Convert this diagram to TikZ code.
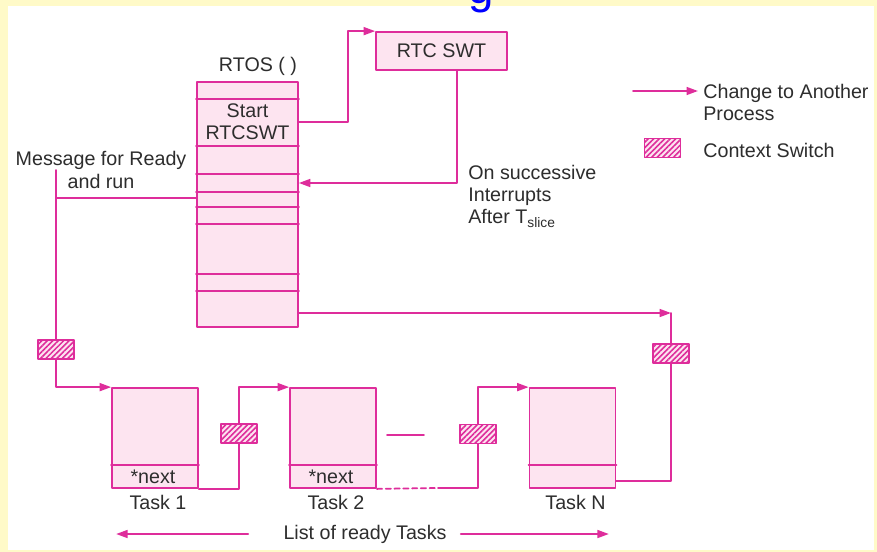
\documentclass[tikz,border=0pt]{standalone}
\usepackage{fontspec}
\setmainfont{Liberation Sans}
\usetikzlibrary{arrows.meta,patterns.meta}
\definecolor{pk}{RGB}{222,45,155}
\definecolor{pkfill}{RGB}{253,228,240}
\definecolor{bgyellow}{RGB}{255,250,200}
\definecolor{txt}{RGB}{45,45,45}
\tikzset{
  lnk/.style={draw=pk,line width=1pt},
  flow/.style={lnk,-{Triangle[length=6.5pt,width=4.5pt]}},
  lbl/.style={text=txt,inner sep=0pt,font=\fontsize{11.2}{12.6}\selectfont},
  blk/.style={draw=pk,line width=1pt,fill=pkfill,inner sep=0pt},
  cswitch/.style={draw=pk,line width=1pt,inner sep=0pt,
    minimum width=7.2mm,minimum height=3.8mm,preaction={fill=pkfill},
    pattern={Lines[angle=45,distance=2.2pt,line width=0.9pt]},pattern color=pk},
}
\begin{document}
\begin{tikzpicture}[x=0.2mm,y=-0.2mm,line cap=round,line join=round]
  \useasboundingbox (0,0) rectangle (877,552);
  \fill[bgyellow] (0,0) rectangle (877,552);
  \fill[white] (8,6) rectangle (874,550);
  % cut-off heading
  \node[text=blue,inner sep=0pt,anchor=base,font=\fontsize{26}{26}\selectfont] (ttl) at (481,3) {g};

  % RTOS block and its rows
  \node[blk,minimum width=20.2mm,minimum height=49mm] (rtos) at (247.5,204.5) {};
  \foreach \y in {99,146,174,192,207,224,274,291}
    \draw[lnk] (rtos.west |- 0,\y) -- (rtos.east |- 0,\y);
  \node[lbl,align=center] (start) at (247.5,122) {Start\\RTCSWT};
  \node[lbl] (rtoslbl) at (258,66) {RTOS ( )};
  \node[blk,lbl,minimum width=26.2mm,minimum height=7.6mm] (swt) at (441.5,51) {RTC SWT};
  \draw[flow] (rtos.east |- start) -- (348,122) |- (swt.north west);
  \draw[flow] (swt.south -| 457,0) |- (rtos.east |- 0,183);
  \node[lbl,align=left,anchor=north west] (intr) at (468,165)
    {On successive\\Interrupts\\After T\textsubscript{slice}};

  % ready tasks
  \foreach \n/\x/\name in {t1/155/Task 1,t2/333/Task 2,tn/572.5/Task N}{
    \node[blk,minimum width=17.2mm,minimum height=20mm] (\n) at (\x,438) {};
    \draw[lnk] (\n.west |- 0,465) -- (\n.east |- 0,465);
    \node[lbl] (\n lbl) at (\x+3,502) {\name};
  }
  \node[lbl] (t1nx) at (153,477) {*next};
  \node[lbl] (t2nx) at (331,477) {*next};

  % context switches
  \node[cswitch] (cs0) at (56,349.5) {};
  \node[cswitch] (cs1) at (239,433.5) {};
  \node[cswitch] (cs2) at (478,434) {};
  \node[cswitch] (cs3) at (671,353.5) {};

  \node[lbl,align=center] (msg) at (101,170) {Message for Ready\\and run};
  \draw[lnk] (rtos.west |- 0,198) -- (cs0.north |- 0,198);
  \draw[lnk] (cs0.north |- 0,170) -- (cs0.north);
  \draw[flow] (cs0.south) |- (t1.north west);
  \draw[lnk] (t1.south east) -| (cs1.south);
  \draw[flow] (cs1.north) |- (t2.north west);
  \coordinate (gap) at (438,488);
  \draw[lnk,dash pattern=on 3pt off 2pt] (t2.south east) -- (gap);
  \draw[lnk] (gap) -| (cs2.south);
  \draw[flow] (cs2.north) |- (tn.north west);
  \draw[lnk] (387,435) -- (424,435);
  \draw[flow] (rtos.east |- 0,313) -- (cs3.north |- 0,313);
  \draw[lnk] (cs3.north |- 0,313) -- (cs3.north);
  \draw[lnk] (cs3.south) |- (tn.east |- 0,481);

  % list of ready tasks
  \node[lbl] (list) at (365,534) {List of ready Tasks};
  \draw[flow] ([xshift=-7mm]list.west) -- ++(-132,0);
  \draw[flow] ([xshift=2.8mm]list.east) -- ++(148,0);

  % legend
  \coordinate (lgarr) at (633,91);
  \draw[flow] (lgarr) -- ++(65,0);
  \node[lbl,align=left,anchor=north west] (lgflow) at (703,84) {Change to Another\\Process};
  \node[cswitch] (lgcs) at (662.5,148) {};
  \node[lbl,anchor=west] (lgcstxt) at (703,150) {Context Switch};
\end{tikzpicture}
\end{document}
